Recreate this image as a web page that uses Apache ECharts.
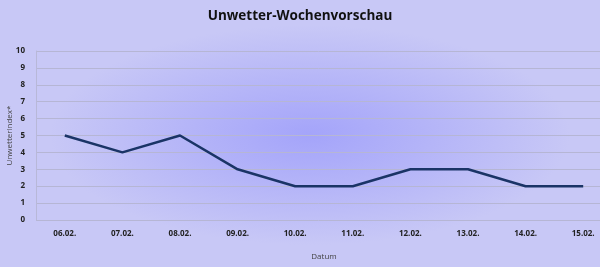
<!DOCTYPE html>
<html><head><meta charset="utf-8">
<script src="https://cdn.jsdelivr.net/npm/echarts@6/dist/echarts.min.js"></script>
<style>
html,body{margin:0;padding:0;}
#c{width:600px;height:267px;background:radial-gradient(ellipse 260px 110px at 310px 135px,#a4a4fa 0%,#b4b4f8 45%,#c8c8f6 100%);background-color:#c8c8f6;}
</style></head>
<body><div id="c"></div>
<script>
const categories = ['06.02.','07.02.','08.02.','09.02.','10.02.','11.02.','12.02.','13.02.','14.02.','15.02.'];
const values = [5,4,5,3,2,2,3,3,2,2];
const chart = echarts.init(document.getElementById('c'), null, {renderer:'canvas'});
chart.setOption({
  backgroundColor:'transparent',
  animation:false,
  title:{text:'Unwetter-Wochenvorschau',left:'center',top:4,textStyle:{fontFamily:'Open Sans',fontWeight:'bold',fontSize:13.5,color:'#111'}},
  grid:{left:36,top:51,width:576,height:169,containLabel:false,outerBoundsMode:'none'},
  xAxis:{type:'category',data:categories,boundaryGap:true,
    name:'Datum',nameLocation:'middle',nameGap:33,nameMoveOverlap:false,
    nameTextStyle:{fontFamily:'Open Sans',fontSize:8,color:'#444'},
    axisLine:{show:false},axisTick:{show:false},
    axisLabel:{fontFamily:'Open Sans',fontWeight:'bold',fontSize:8,color:'#222',margin:10}},
  yAxis:{type:'value',min:0,max:10,interval:1,
    name:'Unwetterindex*',nameLocation:'middle',nameGap:22,nameMoveOverlap:false,
    nameTextStyle:{fontFamily:'Open Sans',fontSize:8,color:'#444'},
    axisLine:{show:true,lineStyle:{color:'#b8b8d8'}},axisTick:{show:false},
    axisLabel:{fontFamily:'Open Sans',fontWeight:'bold',fontSize:8,color:'#222',margin:11},
    splitLine:{lineStyle:{color:'#b6b6d4',width:1}}},
  series:[{type:'line',data:values,symbol:'none',lineStyle:{color:'#1a3466',width:2.5}}]
});
</script></body></html>
